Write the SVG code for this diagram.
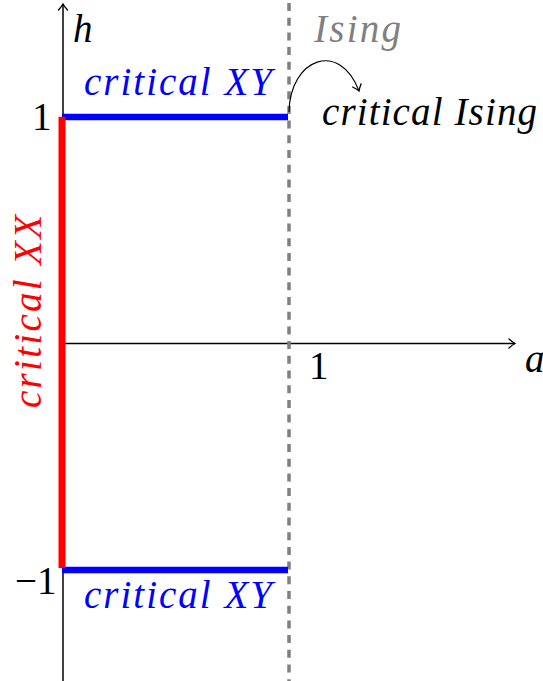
<svg xmlns="http://www.w3.org/2000/svg" width="543" height="681" viewBox="0 0 543 681">
<style>
text{font-family:"Liberation Serif","Times New Roman",serif;font-size:39px}
.it{font-style:italic}
.ax{stroke:#000;stroke-width:1.5;fill:none}
</style>
<defs>
<marker id="arr" markerUnits="userSpaceOnUse" markerWidth="14" markerHeight="14" refX="0" refY="0" viewBox="-7 -7 14 14" orient="auto" overflow="visible">
<path d="M-6,-4.5 Q-2,-1 0,0 Q-2,1 -6,4.5" fill="none" stroke="#000" stroke-width="1.3" stroke-linecap="round"/>
</marker>
</defs>
<rect width="543" height="681" fill="#fff"/>
<g id="connectors">
<path id="axis-h" class="ax" d="M63,343.5 H515" marker-end="url(#arr)"/>
<path id="axis-v" class="ax" d="M63,681 V4" marker-end="url(#arr)"/>
<path id="ising-line" d="M289,3 V681" stroke="#808080" stroke-width="3.5" stroke-dasharray="8 6.7" fill="none"/>
<path id="xy-top" d="M62,117 H288" stroke="#0000ff" stroke-width="6.5"/>
<path id="xy-bottom" d="M62,570 H288" stroke="#0000ff" stroke-width="6.5"/>
<path id="xx" d="M62,116.7 V568" stroke="#ff0000" stroke-width="7"/>
<path id="curve" d="M289,112 C290,58 340,40 359,91" stroke="#000" stroke-width="1.2" fill="none" marker-end="url(#arr)"/>
</g>
<g id="label-h"><text class="it" x="73" y="42">h</text></g>
<g id="label-a"><text class="it" x="525" y="372">a</text></g>
<g id="label-1y"><text x="32" y="130">1</text></g>
<g id="label-m1"><text x="15" y="594">−1</text></g>
<g id="label-1x"><text x="309" y="379">1</text></g>
<g id="label-ising"><text class="it" x="314" y="42" fill="#808080" textLength="87">Ising</text></g>
<g id="label-xy-top"><text class="it" x="84" y="95" fill="#0000ff" textLength="188">critical XY</text></g>
<g id="label-xy-bottom"><text class="it" x="84" y="608" fill="#0000ff" textLength="188">critical XY</text></g>
<g id="label-crit-ising"><text class="it" x="322" y="125" textLength="215">critical Ising</text></g>
<g id="label-xx"><text class="it" transform="translate(41,311.5) rotate(-90)" text-anchor="middle" fill="#ff0000" textLength="193">critical XX</text></g>
</svg>
